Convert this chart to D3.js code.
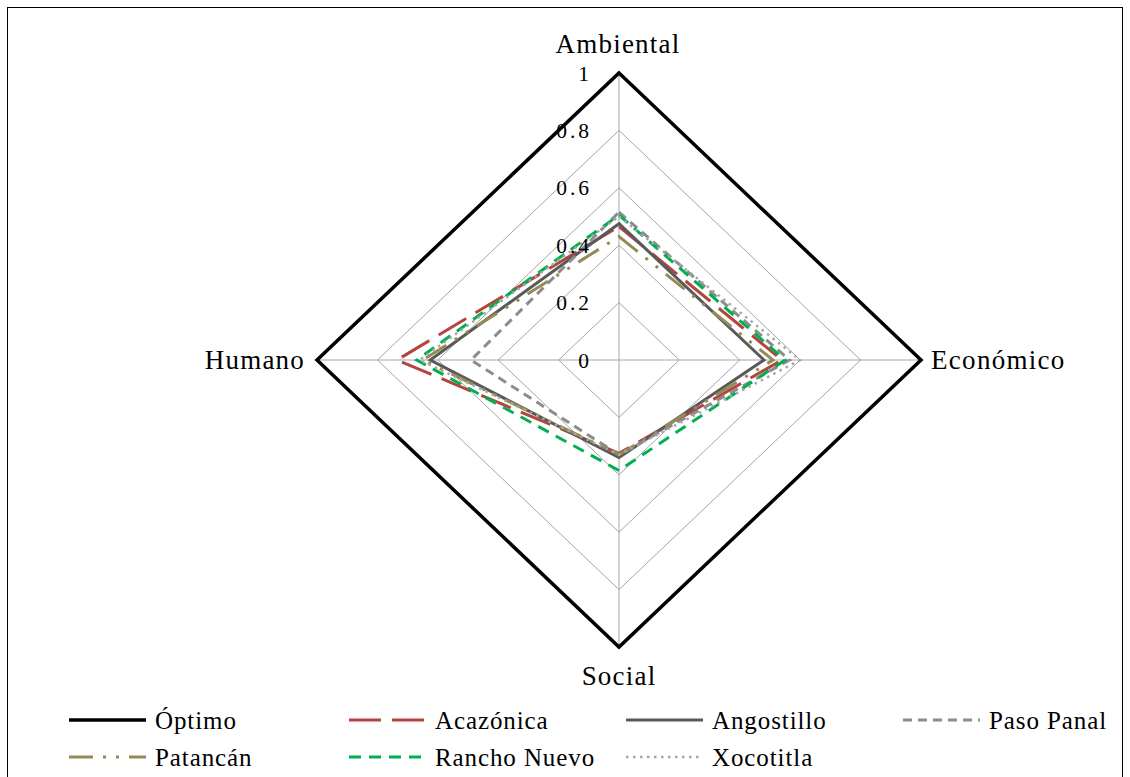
<!DOCTYPE html>
<html><head><meta charset="utf-8">
<script src="https://cdn.jsdelivr.net/npm/d3@7"></script>
<style>body{margin:0;background:#fff}svg text{font-family:"Liberation Serif","Times New Roman",serif;fill:#000}</style>
</head><body><svg id="c" width="1130" height="777"></svg>
<script>
const axes = ["Ambiental","Económico","Social","Humano"];
const ticks = [0,0.2,0.4,0.6,0.8,1];
const seriesNames = ["Óptimo","Acazónica","Angostillo","Paso Panal","Patancán","Rancho Nuevo","Xocotitla"];
const optimo     = [1,1,1,1];
const acazonica  = [0.465,0.54,0.325,0.735];
const angostillo = [0.475,0.48,0.34,0.625];
const pasoPanal  = [0.515,0.565,0.33,0.49];
const patancan   = [0.43,0.51,0.33,0.65];
const ranchoNuevo= [0.505,0.55,0.385,0.67];
const xocotitla  = [0.50,0.60,0.33,0.66];
const seriesValues = [optimo,acazonica,angostillo,pasoPanal,patancan,ranchoNuevo,xocotitla];

const styles = [
  {color:"#000000", w:3.5, dash:null},
  {color:"#b5443f", w:3, dash:"32,11"},
  {color:"#595959", w:3, dash:null},
  {color:"#8c8c8c", w:3, dash:"9,6"},
  {color:"#948a54", w:3, dash:"24,10,3,10,3,10"},
  {color:"#00b050", w:3, dash:"12,8"},
  {color:"#a6a6a6", w:2.5, dash:"2.5,4.5"}
];

const svg = d3.select("#c");
svg.append("rect").attr("x",7.5).attr("y",7.5).attr("width",1115).attr("height",790)
  .attr("fill","none").attr("stroke","#000").attr("stroke-width",1);

const cx = 619, cy = 360;
const rX = d3.scaleLinear().domain([0,1]).range([0,302]);
const rY = d3.scaleLinear().domain([0,1]).range([0,287]);
const ang = d3.scalePoint().domain(axes).range([0, 2*Math.PI*3/4]);
const px = (a,v)=> cx + rX(v)*Math.sin(ang(a));
const py = (a,v)=> cy - rY(v)*Math.cos(ang(a));
const line = d3.line().x(d=>px(d.a,d.v)).y(d=>py(d.a,d.v)).curve(d3.curveLinearClosed);

const g = svg.append("g");
ticks.filter(t=>t>0 && t<1).forEach(t=>{
  g.append("path").attr("d", line(axes.map(a=>({a,v:t}))))
   .attr("fill","none").attr("stroke","#a6a6a6").attr("stroke-width",1);
});
axes.forEach(a=>{
  g.append("line").attr("x1",cx).attr("y1",cy).attr("x2",px(a,1)).attr("y2",py(a,1))
   .attr("stroke","#a6a6a6").attr("stroke-width",1);
});
seriesValues.forEach((vals,i)=>{
  const s = styles[i];
  g.append("path").attr("d", line(axes.map((a,j)=>({a,v:vals[j]}))))
   .attr("fill","none").attr("stroke",s.color).attr("stroke-width",s.w)
   .attr("stroke-dasharray",s.dash).attr("stroke-linejoin","miter");
});
ticks.forEach(t=>{
  svg.append("text").attr("x",cx-27).attr("y",py("Ambiental",t)).attr("dy","0.35em")
   .attr("text-anchor","end").attr("font-size",21.5).attr("letter-spacing",3).text(d3.format("~g")(t));
});
const lf = 27;
svg.append("text").attr("x",cx-1).attr("y",py("Ambiental",1)-20).attr("text-anchor","middle").attr("font-size",lf).attr("letter-spacing",1.2).text(axes[0]);
svg.append("text").attr("x",px("Económico",1)+10).attr("y",cy).attr("dy","0.35em").attr("text-anchor","start").attr("font-size",lf).attr("letter-spacing",1.3).text(axes[1]);
svg.append("text").attr("x",cx).attr("y",py("Social",1)+38).attr("text-anchor","middle").attr("font-size",lf).attr("letter-spacing",1.2).text(axes[2]);
svg.append("text").attr("x",px("Humano",1)-12).attr("y",cy).attr("dy","0.35em").attr("text-anchor","end").attr("font-size",lf).attr("letter-spacing",1.2).text(axes[3]);

const colX = [69,349,626,903];
const legPos = [[colX[0],720],[colX[1],720],[colX[2],720],[colX[3],720],[colX[0],757],[colX[1],757],[colX[2],757]];
seriesNames.forEach((n,i)=>{
  const [x,y] = legPos[i], s = styles[i];
  svg.append("line").attr("x1",x).attr("x2",x+77).attr("y1",y).attr("y2",y)
    .attr("stroke",s.color).attr("stroke-width",s.w).attr("stroke-dasharray",s.dash);
  svg.append("text").attr("x",x+86).attr("y",y).attr("dy","0.35em").attr("font-size",25).attr("letter-spacing",0.9).text(n);
});
</script></body></html>
